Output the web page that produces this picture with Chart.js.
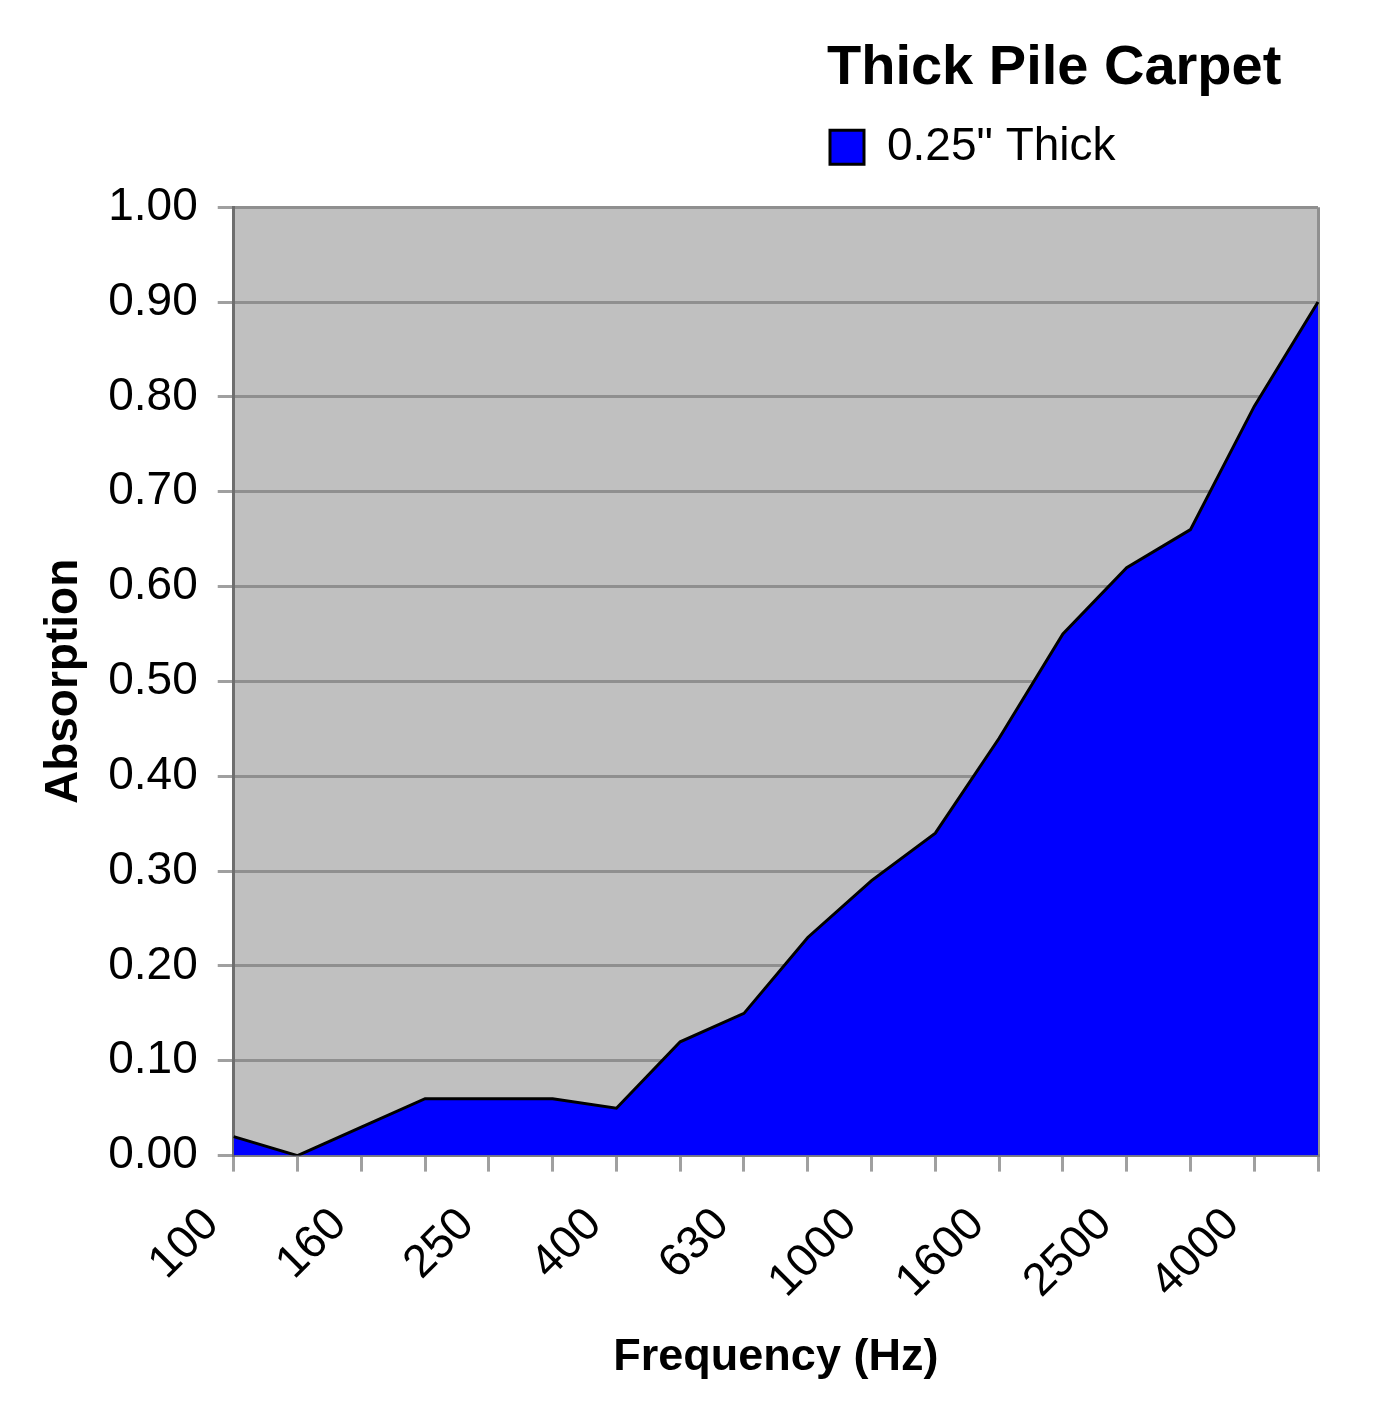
<!DOCTYPE html>
<html>
<head>
<meta charset="utf-8">
<title>Thick Pile Carpet</title>
<script src="https://cdn.jsdelivr.net/npm/chart.js@4"></script>
<style>
  html, body { margin: 0; padding: 0; background: #ffffff; }
  #wrap { width: 1400px; height: 1414px; }
</style>
</head>
<body>
<div id="wrap"><canvas id="carpetChart" width="1400" height="1414"></canvas></div>
<script>
// Datos (bandas de tercio de octava)
const frequencies = ["100", "125", "160", "200", "250", "315", "400", "500", "630",
  "800", "1000", "1250", "1600", "2000", "2500", "3150", "4000", "5000"];
const absorption = [0.02, 0.00, 0.03, 0.06, 0.06, 0.06, 0.05, 0.12, 0.15,
  0.23, 0.29, 0.34, 0.44, 0.55, 0.62, 0.66, 0.79, 0.90];
const seriesLabel = '0.25" Thick';

const FONT = "'Liberation Sans', Arial, sans-serif";
const HEADER_LEFT = 827;   // x del titulo y la leyenda
const LEGEND_GAP = 27;     // espacio extra bajo la leyenda

// Fondo gris del area de trazado, titulo/leyenda a la derecha
const plotArea = {
  id: "plotArea",
  beforeLayout(chart) {
    const legend = chart.legend;
    if (legend && !legend._gapPatched) {
      const fit = legend.fit;
      legend.fit = function () {
        fit.call(this);
        this.height += LEGEND_GAP;
      };
      legend._gapPatched = true;
    }
  },
  afterLayout(chart) {
    if (chart.titleBlock) chart.titleBlock.left = HEADER_LEFT;
    if (chart.legend) chart.legend.left = HEADER_LEFT - 9;
  },
  beforeDraw(chart) {
    const { ctx, chartArea } = chart;
    ctx.save();
    ctx.fillStyle = "#c0c0c0";
    ctx.fillRect(chartArea.left, chartArea.top,
      chartArea.right - chartArea.left, chartArea.bottom - chartArea.top);
    ctx.restore();
  },
};

const lastIndex = frequencies.length - 1;

new Chart(document.getElementById("carpetChart"), {
  type: "line",
  data: {
    labels: frequencies,
    datasets: [
      {
        label: seriesLabel,
        data: absorption,
        backgroundColor: "#0000ff",
        borderColor: "#000000",
        borderWidth: 3,
        fill: "origin",
        tension: 0,
        pointRadius: 0,
      },
    ],
  },
  options: {
    responsive: false,
    animation: false,
    layout: { padding: { left: 12, right: 82, top: 0, bottom: 0 } },
    plugins: {
      title: {
        display: true,
        text: "Thick Pile Carpet",
        align: "start",
        color: "#000000",
        font: { family: FONT, size: 56, weight: "bold" },
        padding: { top: 35, bottom: 10 },
      },
      legend: {
        display: true,
        position: "top",
        align: "start",
        labels: {
          color: "#000000",
          font: { family: FONT, size: 46 },
          boxWidth: 34,
          boxHeight: 34,
          padding: 12,
        },
      },
      tooltip: { enabled: false },
    },
    scales: {
      x: {
        grid: {
          drawOnChartArea: true,
          color: (c) => (c.index === lastIndex ? "#909090" : "rgba(0,0,0,0)"),
          lineWidth: 3,
          tickColor: "#a0a0a0",
          tickLength: 16,
        },
        border: { color: "#808080", width: 3 },
        ticks: {
          autoSkip: false,
          maxRotation: 45,
          minRotation: 45,
          padding: 26,
          labelOffset: -22,
          color: "#000000",
          font: { family: FONT, size: 46 },
          callback: function (value, index) {
            return index % 2 === 0 ? this.getLabelForValue(value) : "";
          },
        },
        title: {
          display: true,
          text: "Frequency (Hz)",
          color: "#000000",
          font: { family: FONT, size: 45, weight: "bold", lineHeight: 1 },
          padding: { top: 0, bottom: 34 },
        },
      },
      y: {
        min: 0,
        max: 1,
        grid: {
          color: "#8f8f8f",
          lineWidth: 3,
          tickColor: "#a0a0a0",
          tickLength: 16,
        },
        border: { color: "#6e6e6e", width: 3 },
        ticks: {
          stepSize: 0.1,
          padding: 20,
          color: "#000000",
          font: { family: FONT, size: 46 },
          callback: (value) => value.toFixed(2),
        },
        title: {
          display: true,
          text: "Absorption",
          color: "#000000",
          font: { family: FONT, size: 46, weight: "bold" },
          padding: { top: 25, bottom: -4 },
        },
      },
    },
  },
  plugins: [plotArea],
});
</script>
</body>
</html>
